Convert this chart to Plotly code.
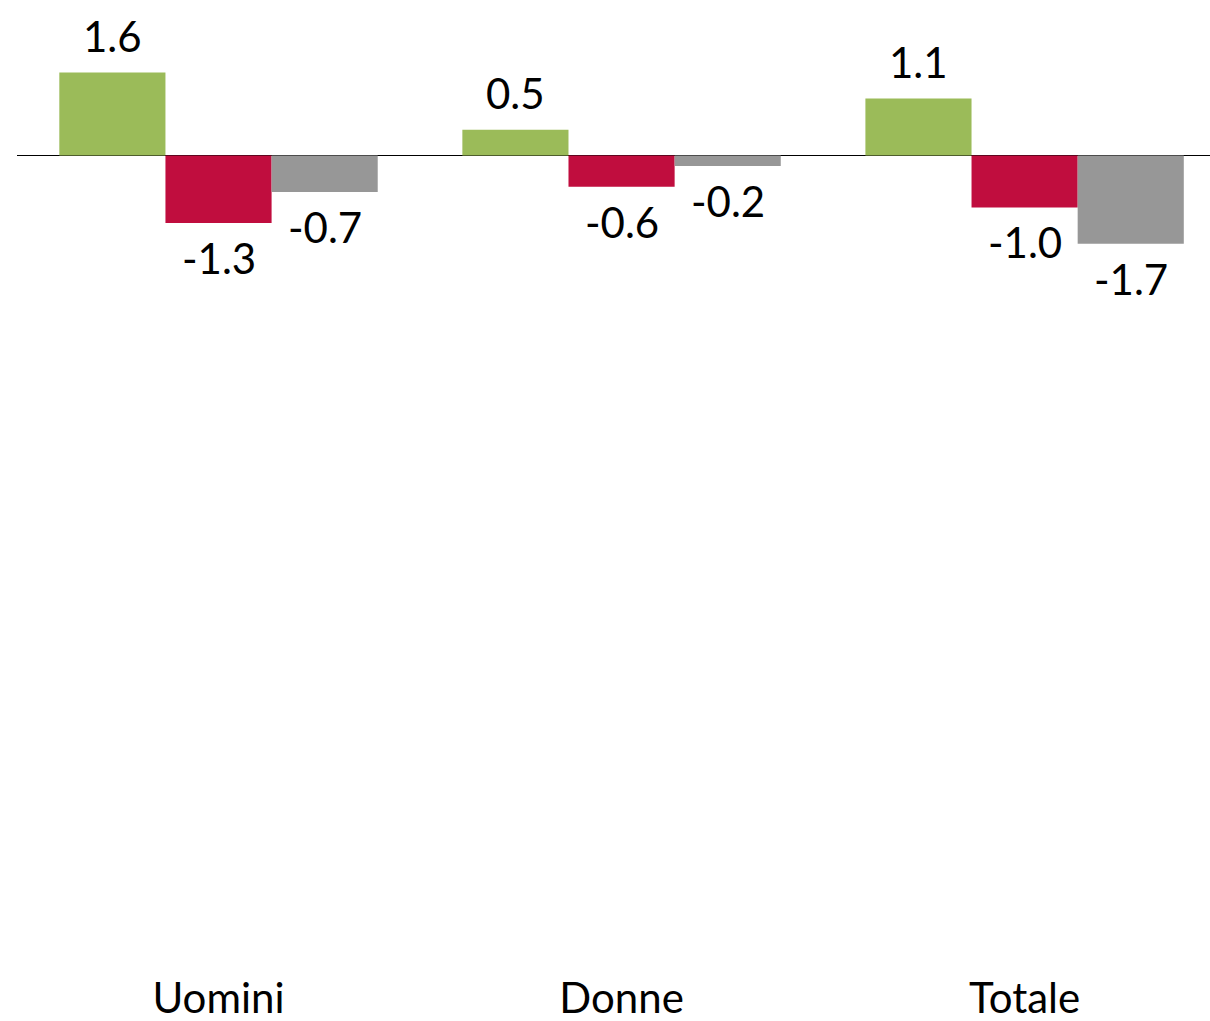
import plotly.graph_objects as go

categories = ["Uomini", "Donne", "Totale"]
series_green = [1.6, 0.5, 1.1]
series_red = [-1.3, -0.6, -1.0]
series_gray = [-0.7, -0.2, -1.7]

series = [series_green, series_red, series_gray]
colors = ["#9BBB59", "#C00D3E", "#979797"]

FONT = "Lato, Open Sans, sans-serif"
FS = 42
bargap = 0.21
n = len(series)
w = (1 - bargap) / n
xs = list(range(len(categories)))

fig = go.Figure()
annotations = []
for i, (vals, col) in enumerate(zip(series, colors)):
    fig.add_trace(go.Bar(
        x=xs, y=vals, marker=dict(color=col, line=dict(width=0)),
        showlegend=False, hoverinfo="skip",
    ))
    off = (i - (n - 1) / 2) * w
    for xi, v in zip(xs, vals):
        annotations.append(dict(
            x=xi + off, y=v, xref="x", yref="y",
            text=f"{v:.1f}", showarrow=False,
            yanchor="bottom" if v >= 0 else "top",
            yshift=10 if v >= 0 else -8,
            font=dict(family=FONT, size=FS, color="black"),
        ))

fig.update_layout(
    width=1210, height=1021,
    margin=dict(l=17, r=0, t=0, b=51),
    paper_bgcolor="white", plot_bgcolor="white",
    barmode="group", bargap=bargap, bargroupgap=0,
    annotations=annotations,
    font=dict(family=FONT, size=FS, color="black"),
)
fig.update_xaxes(
    range=[-0.5, 2.46], tickvals=xs, ticktext=categories,
    showgrid=False, zeroline=False, showline=False, ticks="",
    tickfont=dict(family=FONT, size=FS, color="black"),
)
fig.update_yaxes(
    range=[-15.7, 3.0], showgrid=False, showticklabels=False,
    zeroline=True, zerolinecolor="black", zerolinewidth=1.5,
    showline=False, ticks="",
)
fig.write_html(
    "out.html",
    config={"displayModeBar": False, "staticPlot": True},
    post_script="document.body.style.margin='0';document.body.style.overflow='hidden';",
)
